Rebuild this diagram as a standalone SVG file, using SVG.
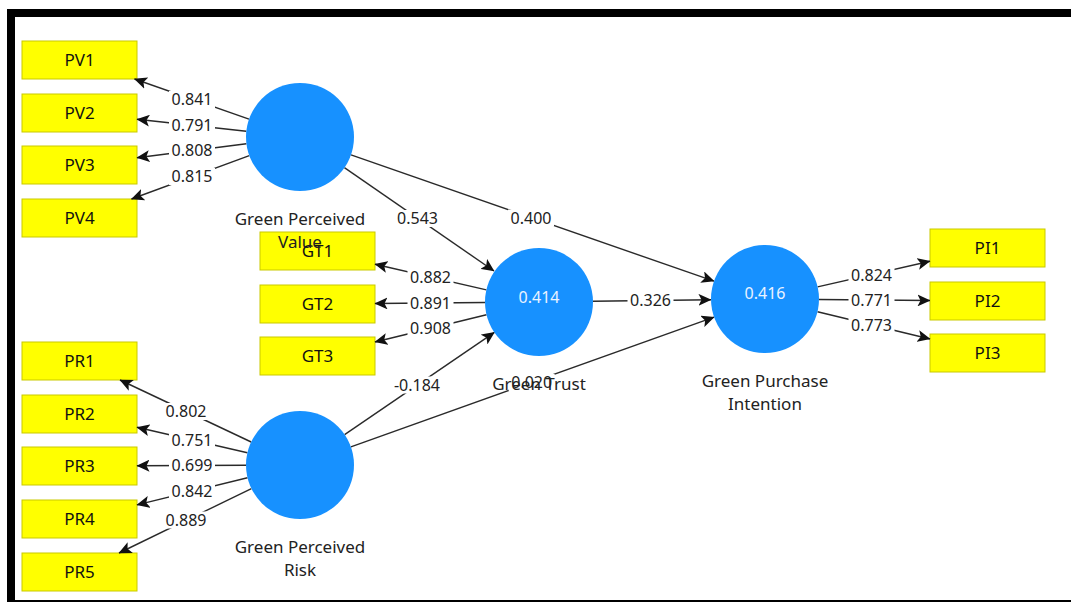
<svg xmlns="http://www.w3.org/2000/svg" width="1071" height="602" viewBox="0 0 1071 602">
<defs>
<marker id="ah" markerUnits="userSpaceOnUse" markerWidth="13" markerHeight="12" refX="12.5" refY="6" orient="auto" viewBox="0 0 13 12">
<path d="M0,0 L13,6 L0,12 L3,6 z" fill="#111"/>
</marker>
<style>
.bx{fill:#FFFF00;stroke:#C9C900;stroke-width:1}
.bt{font-family:"Noto Sans","Open Sans",sans-serif;font-size:17px;fill:#111;text-anchor:middle}
.cc{fill:#1791FF}
.ct{font-family:"Noto Sans","Open Sans",sans-serif;font-size:16px;fill:#EAF3FF;text-anchor:middle}
.cap{font-family:"Noto Sans","Open Sans",sans-serif;font-size:17px;fill:#222;text-anchor:middle}
.ln{stroke:#2a2a2a;stroke-width:1.4;fill:none;marker-end:url(#ah)}
.lb{fill:#fff}
.lt{font-family:"Noto Sans","Open Sans",sans-serif;font-size:16px;fill:#222;text-anchor:middle}
</style>
</defs>
<rect x="0" y="0" width="1071" height="602" fill="#fff"/>
<g id="frame">
<rect x="7" y="9" width="1064" height="8" fill="#000"/>
<rect x="7" y="9" width="8" height="593" fill="#000"/>
<rect x="7" y="600" width="1064" height="2" fill="#000"/>
</g>
<g id="PV1"><rect class="bx" x="22" y="41" width="115" height="38"/><text class="bt" x="79.5" y="66">PV1</text></g>
<g id="PV2"><rect class="bx" x="22" y="94" width="115" height="38"/><text class="bt" x="79.5" y="119">PV2</text></g>
<g id="PV3"><rect class="bx" x="22" y="146" width="115" height="38"/><text class="bt" x="79.5" y="171">PV3</text></g>
<g id="PV4"><rect class="bx" x="22" y="199" width="115" height="38"/><text class="bt" x="79.5" y="224">PV4</text></g>
<g id="PR1"><rect class="bx" x="22" y="342" width="115" height="38"/><text class="bt" x="79.5" y="367">PR1</text></g>
<g id="PR2"><rect class="bx" x="22" y="395" width="115" height="38"/><text class="bt" x="79.5" y="420">PR2</text></g>
<g id="PR3"><rect class="bx" x="22" y="447" width="115" height="38"/><text class="bt" x="79.5" y="472">PR3</text></g>
<g id="PR4"><rect class="bx" x="22" y="500" width="115" height="38"/><text class="bt" x="79.5" y="525">PR4</text></g>
<g id="PR5"><rect class="bx" x="22" y="553" width="115" height="38"/><text class="bt" x="79.5" y="578">PR5</text></g>
<g id="GT1"><rect class="bx" x="260" y="232" width="115" height="38"/><text class="bt" x="317.5" y="257">GT1</text></g>
<g id="GT2"><rect class="bx" x="260" y="285" width="115" height="38"/><text class="bt" x="317.5" y="310">GT2</text></g>
<g id="GT3"><rect class="bx" x="260" y="337" width="115" height="38"/><text class="bt" x="317.5" y="362">GT3</text></g>
<g id="PI1"><rect class="bx" x="930" y="229" width="115" height="38"/><text class="bt" x="987.5" y="254">PI1</text></g>
<g id="PI2"><rect class="bx" x="930" y="282" width="115" height="38"/><text class="bt" x="987.5" y="307">PI2</text></g>
<g id="PI3"><rect class="bx" x="930" y="334" width="115" height="38"/><text class="bt" x="987.5" y="359">PI3</text></g>
<g id="connectors">
<line class="ln" x1="249" y1="119.2" x2="134.5" y2="79"/>
<line class="ln" x1="246.3" y1="131.2" x2="137" y2="119.3"/>
<line class="ln" x1="246.4" y1="143.8" x2="137" y2="157.7"/>
<line class="ln" x1="249.3" y1="155.6" x2="131.5" y2="199"/>
<line class="ln" x1="251.2" y1="442" x2="120" y2="380"/>
<line class="ln" x1="247.4" y1="452.8" x2="137" y2="427.3"/>
<line class="ln" x1="246" y1="465.2" x2="137" y2="465.7"/>
<line class="ln" x1="247.5" y1="477.8" x2="137" y2="504.9"/>
<line class="ln" x1="251.4" y1="488.6" x2="119" y2="553"/>
<line class="ln" x1="486.4" y1="289.9" x2="375" y2="264.2"/>
<line class="ln" x1="485" y1="302.5" x2="375" y2="303.5"/>
<line class="ln" x1="486.5" y1="314.8" x2="375" y2="342"/>
<line class="ln" x1="817.6" y1="286.9" x2="930" y2="261.2"/>
<line class="ln" x1="819" y1="299.5" x2="930" y2="300.5"/>
<line class="ln" x1="817.5" y1="311.7" x2="930" y2="339"/>
<line class="ln" x1="344.4" y1="167.7" x2="494" y2="271"/>
<line class="ln" x1="351" y1="154.8" x2="714" y2="281.2"/>
<line class="ln" x1="593" y1="301.3" x2="711" y2="299.7"/>
<line class="ln" x1="344.6" y1="434.6" x2="494.4" y2="332.4"/>
<line class="ln" x1="350.9" y1="446.8" x2="714.1" y2="317.2"/>
<rect class="lb" x="169" y="91" width="46" height="17"/><text class="lt" x="192" y="105.2">0.841</text>
<rect class="lb" x="169" y="117" width="46" height="17"/><text class="lt" x="192" y="131.2">0.791</text>
<rect class="lb" x="169" y="142" width="46" height="17"/><text class="lt" x="192" y="156.2">0.808</text>
<rect class="lb" x="169" y="168" width="46" height="17"/><text class="lt" x="192" y="182.2">0.815</text>
<rect class="lb" x="163" y="403" width="46" height="17"/><text class="lt" x="186" y="417.2">0.802</text>
<rect class="lb" x="169" y="431.5" width="46" height="17"/><text class="lt" x="192" y="445.7">0.751</text>
<rect class="lb" x="169" y="457" width="46" height="17"/><text class="lt" x="192" y="471.2">0.699</text>
<rect class="lb" x="169" y="482.5" width="46" height="17"/><text class="lt" x="192" y="496.7">0.842</text>
<rect class="lb" x="163" y="511.5" width="46" height="17"/><text class="lt" x="186" y="525.7">0.889</text>
<rect class="lb" x="407.5" y="268.5" width="46" height="17"/><text class="lt" x="430.5" y="282.7">0.882</text>
<rect class="lb" x="407.5" y="294.5" width="46" height="17"/><text class="lt" x="430.5" y="308.7">0.891</text>
<rect class="lb" x="407.5" y="320" width="46" height="17"/><text class="lt" x="430.5" y="334.2">0.908</text>
<rect class="lb" x="848.5" y="266.5" width="46" height="17"/><text class="lt" x="871.5" y="280.7">0.824</text>
<rect class="lb" x="848.5" y="291.5" width="46" height="17"/><text class="lt" x="871.5" y="305.7">0.771</text>
<rect class="lb" x="848.5" y="316.5" width="46" height="17"/><text class="lt" x="871.5" y="330.7">0.773</text>
<rect class="lb" x="394.5" y="210" width="46" height="17"/><text class="lt" x="417.5" y="224.2">0.543</text>
<rect class="lb" x="508" y="209.5" width="46" height="17"/><text class="lt" x="531" y="223.7">0.400</text>
<rect class="lb" x="627.5" y="292" width="46" height="17"/><text class="lt" x="650.5" y="306.2">0.326</text>
<rect class="lb" x="390" y="376.5" width="54" height="17"/><text class="lt" x="417" y="390.7">-0.184</text>
<rect class="lb" x="508.7" y="374" width="46" height="17"/><text class="lt" x="531.7" y="388.2">0.020</text>
</g>
<g id="GreenPerceivedValue"><circle class="cc" cx="300" cy="137" r="54"/><text class="cap" x="300" y="225">Green Perceived</text><text class="cap" x="300" y="248">Value</text></g>
<g id="GreenPerceivedRisk"><circle class="cc" cx="300" cy="465" r="54"/><text class="cap" x="300" y="553">Green Perceived</text><text class="cap" x="300" y="576">Risk</text></g>
<g id="GreenTrust"><circle class="cc" cx="539" cy="302" r="54"/><text class="ct" x="539" y="303">0.414</text><text class="cap" x="539" y="390">Green Trust</text></g>
<g id="GreenPurchaseIntention"><circle class="cc" cx="765" cy="299" r="54"/><text class="ct" x="765" y="299">0.416</text><text class="cap" x="765" y="387">Green Purchase</text><text class="cap" x="765" y="410">Intention</text></g>
</svg>
